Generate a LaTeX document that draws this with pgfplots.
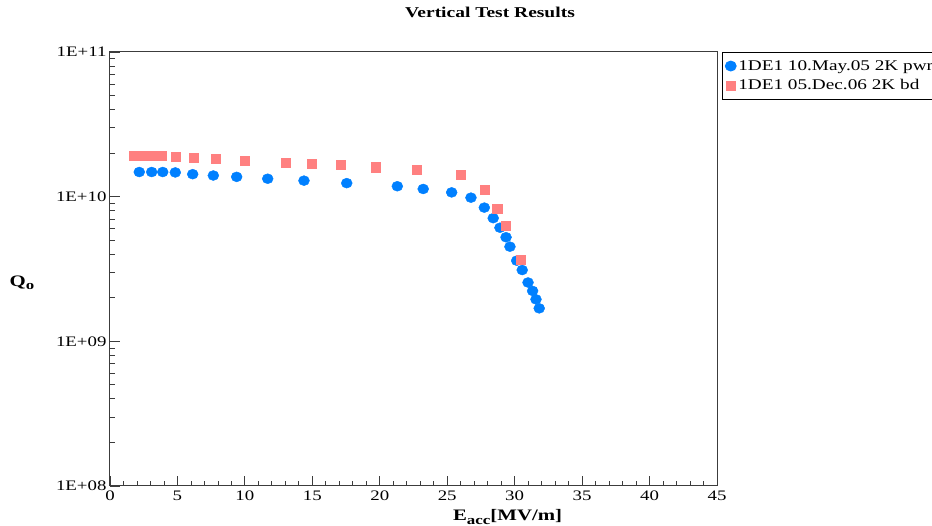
\documentclass[border=0pt]{standalone}
\usepackage{pgfplots}
\pgfplotsset{compat=1.18}
\usepackage{fontspec}
\setmainfont{Liberation Serif}[FakeStretch=1.3]
\definecolor{bluept}{RGB}{0,128,255}
\definecolor{redpt}{RGB}{255,128,128}
\definecolor{axgray}{RGB}{60,60,60}
\begin{document}
\begin{tikzpicture}[x=1pt,y=1pt]
\begin{axis}[
  at={(110pt,40pt)}, anchor=south west,
  scale only axis, width=607pt, height=434pt,
  xmin=0, xmax=45, ymin=1e8, ymax=1e11, ymode=log,
  xtick={0,5,...,45}, minor x tick num=4,
  ytick={1e8,1e9,1e10,1e11},
  yticklabels={1E+08,1E+09,1E+10,1E+11},
  tick align=inside, xtick pos=bottom, ytick pos=left,
  major tick length=10pt, minor tick length=5pt,
  axis line style={axgray, line width=1pt},
  every tick/.style={axgray, line width=0.8pt},
  /pgf/number format/assume math mode=true,
  tick label style={font=\fontsize{14.5}{16}\selectfont},
  xticklabel style={yshift=-1pt},
  title={\textbf{Vertical Test Results}},
  title style={font=\fontsize{15}{17}\selectfont, at={(0.626,1.078)}, anchor=center},
  xlabel={\textbf{E}\raisebox{-3.5pt}{\textbf{\fontsize{13}{14}\selectfont acc}}\textbf{[MV/m]}},
  xlabel style={font=\fontsize{16}{17}\selectfont, at={(0.655,-0.071)}, anchor=center},
  ylabel={\textbf{Q}\raisebox{-3pt}{\textbf{\fontsize{13}{14}\selectfont o}}},
  ylabel style={font=\fontsize{16}{17}\selectfont, at={(-0.145,0.468)}, anchor=center, rotate=-90},
  legend style={at={(1.008,1)}, anchor=north west, draw=black, line width=0.8pt,
    font=\fontsize{14.8}{17}\selectfont, row sep=4pt, inner xsep=3pt, inner ysep=6pt},
  legend cell align=left,
]
\addplot[bluept, only marks, mark=*, mark size=5pt, mark options={xscale=1.1, fill=bluept, draw=bluept}] coordinates {
(2.17,1.48e10)(3.09,1.48e10)(3.91,1.48e10)(4.84,1.47e10)(6.13,1.43e10)(7.66,1.40e10)
(9.39,1.37e10)(11.69,1.33e10)(14.38,1.29e10)(17.55,1.24e10)(21.3,1.18e10)(23.22,1.13e10)
(25.33,1.07e10)(26.76,9.84e9)(27.75,8.4e9)(28.41,7.1e9)(28.91,6.1e9)(29.36,5.24e9)
(29.65,4.51e9)(30.15,3.61e9)(30.56,3.11e9)(30.99,2.55e9)(31.33,2.23e9)(31.58,1.95e9)
(31.82,1.69e9)
};
\addlegendentry{1DE1 10.May.05 2K pwr\rule{40pt}{0pt}}
\addplot[redpt, only marks, mark=square*, mark size=4.6pt, mark options={fill=redpt, draw=redpt}] coordinates {
(1.78,1.93e10)(2.37,1.93e10)(2.89,1.93e10)(3.26,1.91e10)(3.83,1.91e10)(4.89,1.89e10)
(6.18,1.87e10)(7.84,1.82e10)(10.0,1.78e10)(13.05,1.71e10)(14.95,1.69e10)(17.12,1.66e10)
(19.72,1.60e10)(22.76,1.54e10)(26.0,1.41e10)(27.8,1.11e10)(28.71,8.3e9)(29.36,6.33e9)
(30.42,3.66e9)
};
\addlegendentry{1DE1 05.Dec.06 2K bd}
\end{axis}
\pgfresetboundingbox
\path[use as bounding box] (0,0) rectangle (932,526);
\end{tikzpicture}
\end{document}
